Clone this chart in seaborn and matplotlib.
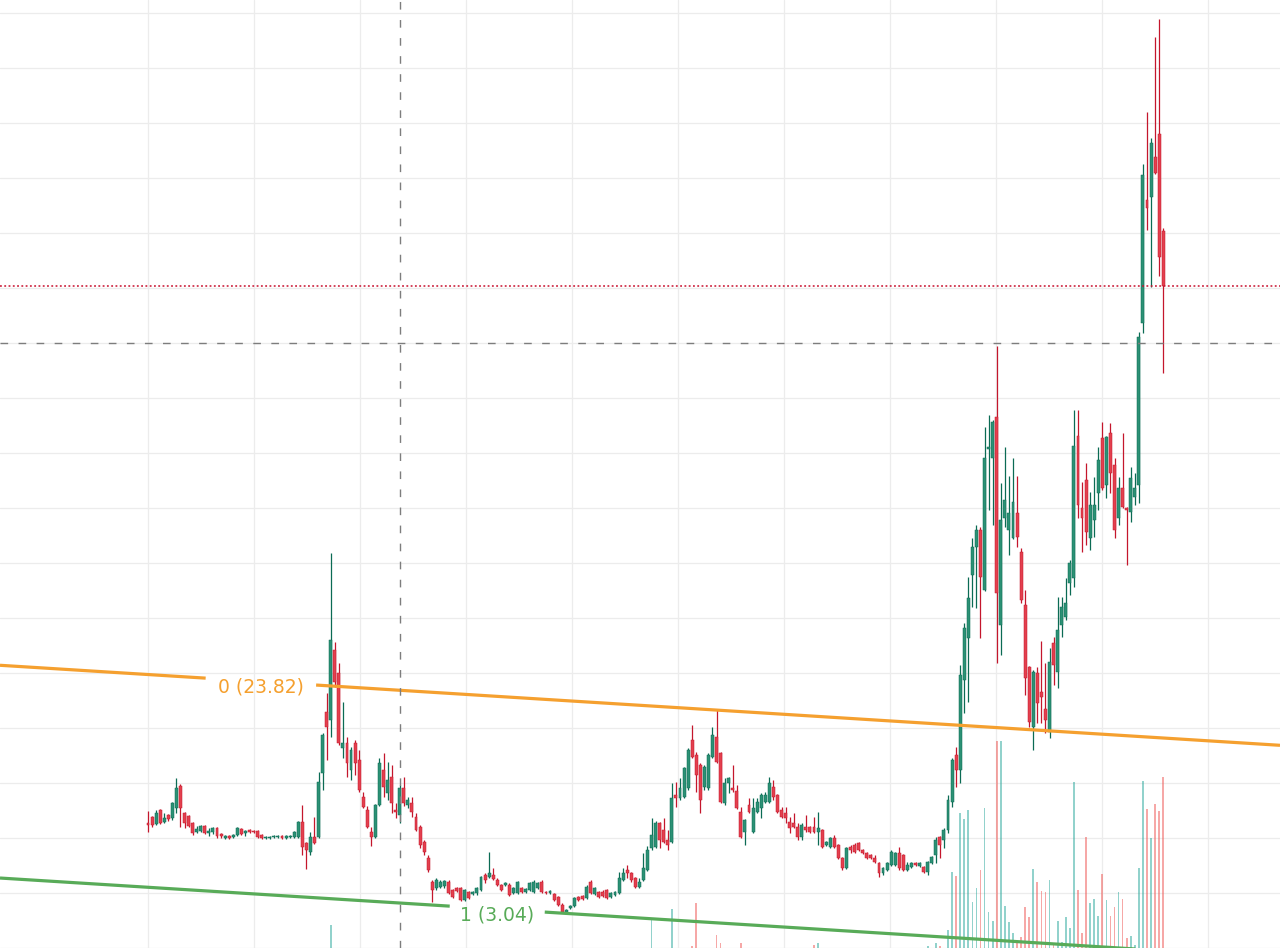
import numpy as np
import matplotlib
matplotlib.use("Agg")
import matplotlib.pyplot as plt
from matplotlib.transforms import blended_transform_factory
import seaborn as sns

# ---------------- data ----------------
OPEN = [11.36, 11.91, 11.27, 12.55, 11.45, 12.09, 11.82, 12.73, 14.73, 12.27,
        12.00, 11.36, 10.55, 10.64, 11.09, 10.45, 10.55, 10.91, 10.36, 10.00,
        10.18, 10.09, 10.27, 10.82, 10.45, 10.73, 10.64, 10.64, 10.27, 10.00,
        10.00, 10.09, 10.09, 10.18, 10.00, 10.09, 10.09, 10.09, 11.45, 9.55,
        8.73, 10.09, 10.09, 15.91, 21.45, 20.73, 27.09, 25.00, 18.18, 18.64,
        16.18, 18.64, 17.09, 13.73, 12.55, 10.55, 10.09, 13.00, 16.18, 14.09,
        15.55, 12.55, 12.09, 14.55, 13.00, 13.18, 11.91, 11.00, 9.64, 8.18,
        6.00, 5.45, 5.55, 5.64, 6.00, 5.27, 5.45, 5.45, 4.36, 5.09,
        4.91, 5.00, 5.27, 6.64, 6.45, 6.64, 6.18, 5.73, 5.73, 5.73,
        5.00, 5.00, 5.45, 5.09, 5.27, 5.09, 5.45, 6.00, 5.09, 5.00,
        4.91, 4.64, 3.91, 3.27, 3.64, 3.82, 4.64, 4.73, 4.55, 6.00,
        4.91, 5.09, 5.09, 5.27, 4.64, 4.82, 5.00, 6.18, 7.09, 6.82,
        6.36, 5.55, 6.18, 7.09, 9.09, 9.18, 11.36, 10.73, 9.82, 9.64,
        13.91, 13.64, 13.73, 14.55, 18.91, 17.55, 16.64, 14.64, 14.55, 17.36,
        19.18, 17.73, 13.18, 15.00, 14.55, 14.27, 12.36, 10.55, 13.00, 10.55,
        12.36, 12.73, 13.27, 13.27, 14.64, 13.91, 12.55, 12.27, 11.45, 11.36,
        11.00, 10.09, 11.00, 11.00, 11.00, 10.55, 10.73, 9.36, 9.18, 10.00,
        9.36, 8.18, 7.27, 9.18, 9.36, 9.55, 8.91, 8.64, 8.45, 8.18,
        7.73, 6.82, 7.09, 7.55, 7.55, 8.64, 8.45, 7.09, 7.36, 7.73,
        7.45, 7.36, 6.91, 7.73, 8.45, 10.09, 9.82, 10.73, 13.27, 17.55,
        16.18, 24.36, 28.18, 33.91, 36.45, 38.00, 32.55, 45.36, 44.55, 48.27,
        29.36, 39.09, 38.00, 37.27, 39.55, 36.00, 31.18, 25.55, 20.09, 25.00,
        23.27, 21.73, 19.64, 27.73, 25.09, 29.36, 30.09, 33.18, 33.64, 46.55,
        40.00, 42.55, 37.27, 38.91, 41.36, 46.36, 42.09, 46.82, 43.91, 39.09,
        41.82, 40.00, 39.64, 41.00, 42.09, 56.82, 68.00, 68.27, 71.91, 74.00,
        65.18]
HIGH = [12.45, 12.00, 12.55, 12.64, 12.27, 12.18, 13.27, 15.45, 14.91, 12.36,
        12.09, 11.45, 11.09, 11.18, 11.18, 10.91, 11.00, 11.00, 10.45, 10.27,
        10.27, 10.36, 11.00, 10.91, 10.73, 10.82, 10.73, 10.73, 10.36, 10.18,
        10.18, 10.27, 10.27, 10.27, 10.27, 10.27, 10.64, 11.55, 13.00, 9.64,
        10.55, 11.91, 16.00, 19.55, 23.18, 35.91, 27.82, 25.91, 22.36, 19.18,
        18.27, 18.91, 18.00, 14.18, 12.91, 11.00, 13.09, 17.27, 17.73, 16.91,
        16.64, 13.18, 14.82, 15.55, 13.73, 13.73, 12.27, 11.18, 9.82, 8.45,
        6.18, 6.36, 6.18, 6.18, 6.18, 5.36, 5.55, 5.55, 5.36, 5.18,
        5.18, 5.55, 6.55, 6.82, 8.73, 7.27, 6.36, 5.82, 6.00, 5.91,
        5.55, 6.09, 5.55, 5.45, 6.00, 6.18, 6.00, 6.18, 5.18, 5.27,
        5.00, 4.73, 4.09, 3.55, 3.91, 4.64, 4.73, 4.82, 5.73, 6.18,
        5.55, 5.18, 5.27, 5.36, 5.09, 5.18, 6.91, 7.27, 7.55, 6.91,
        6.45, 6.36, 8.64, 9.27, 11.82, 11.55, 11.45, 11.82, 10.73, 15.00,
        15.09, 15.45, 16.45, 18.18, 20.27, 17.82, 16.82, 16.64, 17.73, 20.09,
        21.64, 17.82, 15.45, 15.55, 16.64, 14.82, 12.82, 11.73, 13.64, 13.64,
        13.64, 14.09, 14.18, 15.55, 15.27, 14.00, 12.82, 12.82, 11.91, 12.27,
        11.36, 11.36, 12.09, 11.09, 11.91, 12.36, 10.82, 9.73, 10.09, 10.27,
        9.45, 8.27, 9.18, 9.36, 9.55, 9.64, 9.00, 8.73, 8.55, 8.45,
        7.82, 7.36, 7.82, 8.91, 8.73, 9.18, 8.55, 7.82, 7.82, 7.82,
        7.82, 7.45, 7.91, 8.36, 10.09, 10.18, 10.91, 13.91, 17.27, 18.27,
        25.73, 29.55, 33.73, 37.27, 38.45, 38.27, 47.36, 48.45, 48.00, 54.73,
        42.27, 45.55, 42.91, 44.55, 42.91, 36.36, 32.55, 25.64, 25.27, 25.55,
        27.91, 25.91, 27.27, 28.27, 31.91, 31.91, 33.64, 35.27, 48.91, 48.91,
        42.36, 44.09, 41.45, 42.82, 45.55, 47.82, 46.55, 47.73, 44.55, 42.82,
        46.82, 40.09, 43.73, 43.18, 56.00, 71.27, 76.00, 73.64, 82.82, 84.45,
        65.45]
LOW = [10.55, 11.00, 11.18, 11.27, 11.36, 11.55, 11.64, 12.27, 11.00, 10.91,
       11.00, 10.27, 10.45, 10.55, 10.36, 10.18, 10.36, 10.00, 10.00, 9.91,
       9.91, 10.00, 10.18, 10.27, 10.18, 10.45, 10.45, 10.00, 9.91, 9.91,
       9.91, 10.00, 10.00, 9.91, 9.91, 10.00, 10.00, 10.00, 8.45, 7.18,
       8.45, 9.45, 10.00, 14.36, 17.09, 19.18, 23.73, 18.45, 17.27, 15.55,
       15.27, 15.73, 14.18, 12.73, 10.91, 9.27, 10.00, 12.91, 13.73, 13.45,
       12.27, 11.82, 11.36, 12.91, 12.73, 11.91, 10.64, 9.09, 8.45, 6.91,
       4.18, 5.27, 5.45, 5.45, 4.91, 4.55, 5.09, 4.27, 4.27, 4.45,
       4.82, 4.82, 5.18, 5.91, 6.36, 6.18, 5.64, 5.18, 5.64, 4.73,
       4.91, 4.91, 5.00, 5.00, 5.18, 5.00, 5.36, 5.00, 4.91, 4.91,
       4.27, 3.82, 3.18, 3.18, 3.55, 3.73, 4.27, 4.36, 4.45, 4.91,
       4.82, 4.55, 4.64, 4.45, 4.55, 4.73, 4.91, 6.09, 6.36, 6.00,
       5.45, 5.45, 6.09, 7.00, 8.91, 9.09, 9.09, 9.55, 8.91, 9.55,
       12.82, 13.45, 13.64, 14.36, 17.27, 14.18, 12.27, 14.36, 14.36, 17.27,
       16.82, 13.18, 13.00, 14.09, 14.18, 12.64, 10.00, 9.36, 12.27, 10.45,
       12.27, 11.82, 13.18, 13.18, 13.45, 12.27, 11.82, 11.36, 10.45, 10.91,
       9.82, 9.82, 10.55, 10.45, 10.45, 9.36, 9.09, 9.27, 9.09, 9.09,
       8.09, 7.09, 7.18, 8.64, 8.64, 8.82, 8.55, 8.09, 8.09, 7.73,
       6.45, 6.64, 7.00, 7.45, 7.45, 7.09, 7.00, 7.00, 7.27, 7.45,
       7.36, 6.82, 6.64, 7.64, 7.73, 8.18, 9.09, 10.45, 12.82, 14.64,
       15.00, 21.36, 22.36, 31.00, 30.91, 28.18, 32.45, 39.82, 38.45, 25.91,
       26.64, 38.27, 35.73, 37.18, 36.45, 31.36, 23.00, 20.09, 18.00, 20.45,
       20.45, 19.55, 19.09, 23.91, 23.64, 28.27, 29.82, 32.09, 32.82, 39.09,
       36.00, 36.64, 36.18, 37.36, 39.82, 41.64, 40.91, 41.36, 37.27, 38.45,
       40.00, 34.82, 38.73, 40.27, 40.45, 55.91, 65.27, 60.09, 70.36, 61.09,
       52.27]
CLOSE = [11.18, 11.18, 12.27, 11.36, 11.82, 11.73, 13.18, 14.55, 12.73, 11.36,
         11.09, 10.45, 10.82, 11.09, 10.45, 10.64, 10.91, 10.18, 10.18, 10.18,
         10.00, 10.27, 10.91, 10.36, 10.64, 10.55, 10.55, 10.09, 10.00, 10.09,
         10.09, 10.18, 10.18, 10.00, 10.18, 10.18, 10.55, 11.45, 9.18, 8.91,
         10.09, 9.55, 15.09, 19.36, 20.09, 28.00, 24.18, 18.64, 18.64, 16.82,
         18.00, 16.82, 14.36, 12.82, 11.00, 10.09, 13.00, 16.82, 14.64, 15.27,
         13.18, 12.36, 14.55, 13.18, 13.45, 12.36, 10.73, 9.36, 8.73, 7.09,
         5.27, 6.18, 6.00, 6.09, 5.00, 4.64, 5.18, 4.36, 5.27, 4.55,
         5.09, 5.45, 6.45, 6.18, 6.82, 6.27, 5.73, 5.27, 5.91, 4.82,
         5.45, 6.00, 5.09, 5.36, 5.91, 6.00, 5.91, 5.09, 5.00, 5.18,
         4.36, 3.91, 3.27, 3.45, 3.82, 4.55, 4.36, 4.45, 5.55, 5.00,
         5.45, 4.64, 4.73, 4.55, 5.00, 5.09, 6.36, 6.82, 6.82, 6.18,
         5.55, 6.00, 7.27, 8.91, 10.27, 11.36, 9.82, 9.64, 9.36, 13.64,
         13.64, 14.55, 16.36, 18.00, 17.36, 15.73, 13.45, 16.45, 17.55, 19.36,
         16.91, 13.27, 15.00, 15.45, 14.36, 12.73, 10.09, 11.64, 12.36, 12.73,
         13.27, 13.91, 13.91, 15.00, 13.73, 12.36, 11.91, 11.82, 10.91, 11.00,
         10.09, 11.18, 10.73, 10.55, 10.55, 10.91, 9.18, 9.64, 10.00, 9.18,
         8.18, 7.27, 9.09, 8.91, 8.73, 8.91, 8.64, 8.18, 8.18, 7.82,
         6.82, 7.27, 7.73, 8.73, 8.64, 7.27, 7.09, 7.55, 7.73, 7.55,
         7.73, 6.91, 7.82, 8.27, 9.82, 9.36, 10.73, 13.45, 17.09, 16.18,
         24.82, 29.09, 31.82, 36.45, 38.00, 33.73, 44.55, 45.55, 47.82, 32.27,
         38.91, 40.73, 39.55, 40.55, 37.36, 31.64, 24.55, 20.55, 25.09, 22.27,
         22.82, 20.73, 26.00, 25.73, 28.91, 31.00, 31.36, 35.00, 45.64, 40.27,
         39.09, 37.82, 40.27, 40.27, 44.36, 41.82, 46.45, 43.18, 38.00, 41.82,
         40.09, 39.82, 42.73, 41.82, 55.55, 70.27, 67.27, 73.18, 70.45, 62.82,
         60.18]

VOLUME_INDEX = [45, 124, 129, 134, 135, 140, 141, 146, 164, 165,
                192, 194, 195, 197, 198, 199, 200, 201, 202, 203,
                204, 205, 206, 207, 208, 209, 210, 211, 212, 213,
                214, 215, 216, 217, 218, 219, 220, 221, 222, 223,
                224, 225, 226, 227, 228, 229, 230, 231, 232, 233,
                234, 235, 236, 237, 238, 239, 240, 241, 242, 243,
                244, 245, 246, 247, 248, 249, 250]
VOLUME = [23, 30, 39, 2, 45, 13, 5, 5, 3, 5,
          2, 5, 2, 18, 76, 72, 135, 129, 138, 46,
          60, 78, 140, 36, 27, 207, 207, 42, 26, 15,
          5, 11, 41, 31, 79, 66, 57, 56, 68, 4,
          27, 6, 31, 20, 166, 58, 15, 111, 45, 49,
          32, 74, 48, 32, 41, 56, 49, 10, 12, 3,
          80, 167, 139, 110, 144, 137, 171]

# parallel channel drawing: level value at first and last candle
CHANNEL_TOP = [24.86, 19.09]
CHANNEL_BOTTOM = [5.52, -0.25]
TOP_LABEL = "0 (23.82)"
BOTTOM_LABEL = "1 (3.04)"
CROSSHAIR_INDEX = 62
CROSSHAIR_PRICE = 55.0

# ---------------- style ----------------
UP_BODY, UP_WICK = "#2c9175", "#0b6b54"
DN_BODY, DN_WICK = "#e3404e", "#c4162c"
UP_VOL, DN_VOL = "#26a69a", "#ef5350"
ORANGE, GREEN = "#f5a02f", "#58ab58"
GRID = "#ececec"

sns.set_theme(style="white")
plt.rcParams["font.family"] = ["DejaVu Sans"]

o = np.array(OPEN); h = np.array(HIGH); l = np.array(LOW); c = np.array(CLOSE)
n = len(o)
idx = np.arange(n)
up = c >= o

fig = plt.figure(figsize=(12.8, 9.48), dpi=100)
ax = fig.add_axes([0, 0, 1, 1])
fig.patch.set_facecolor("white")
ax.set_facecolor("white")

XMIN, XMAX = -36.44, 278.75
YMIN, YMAX = 0.0, 86.18
ax.set_xlim(XMIN, XMAX)
ax.set_ylim(YMIN, YMAX)

# grid
for gx in np.arange(11) * 26.1:
    ax.axvline(gx, color=GRID, lw=0.9, zorder=0)
for gy in np.arange(0, 90, 5):
    ax.axhline(gy, color=GRID, lw=0.9, zorder=0)

# volume (bottom overlay, scaled in axes fraction)
vol_idx = np.array(VOLUME_INDEX)
vol = np.array(VOLUME, dtype=float)
vol_colors = [UP_VOL if up[i] else DN_VOL for i in vol_idx]
vtrans = blended_transform_factory(ax.transData, ax.transAxes)
ax.bar(vol_idx, vol / 948.0, bottom=0, width=0.42, color=vol_colors,
       alpha=0.5, linewidth=0, transform=vtrans, zorder=1)

# candles
wick_colors = [UP_WICK if u else DN_WICK for u in up]
body_colors = [UP_BODY if u else DN_BODY for u in up]
ax.vlines(idx, l, h, colors=wick_colors, lw=0.9, zorder=2)
body_low = np.minimum(o, c)
body_h = np.maximum(np.abs(c - o), 0.1)
ax.bar(idx, body_h, bottom=body_low, width=0.72, color=body_colors,
       edgecolor=wick_colors, linewidth=0.35, zorder=3)

# channel lines with label gaps
def level(vals, x):
    slope = (vals[1] - vals[0]) / (n - 1)
    return vals[0] + slope * np.asarray(x)

def channel(vals, color, label, center, half_gap):
    for xa, xb in [(XMIN, center - half_gap), (center + half_gap, XMAX)]:
        xs = np.array([xa, xb])
        ax.plot(xs, level(vals, xs), color=color, lw=2.3, zorder=4,
                solid_capstyle="butt")
    ax.text(center, level(vals, center) - 0.5, label, color=color,
            fontsize=13.5, ha="center", va="center", zorder=5)

channel(CHANNEL_TOP, ORANGE, TOP_LABEL, 27.8, 13.6)
channel(CHANNEL_BOTTOM, GREEN, BOTTOM_LABEL, 86.0, 11.7)

# crosshair & last price line
ax.axvline(CROSSHAIR_INDEX, color="#7d7d7d", lw=1.0, dashes=(5.5, 7.5), zorder=6)
ax.axhline(CROSSHAIR_PRICE, color="#7d7d7d", lw=1.0, dashes=(5.5, 7.5), zorder=6)
ax.axhline(c[-1], color="#c8102e", lw=1.1, dashes=(1.2, 1.6), zorder=6)

ax.set_xticks([]); ax.set_yticks([])
sns.despine(ax=ax, left=True, bottom=True, right=True, top=True)

fig.savefig("out.png", dpi=100, facecolor="white")
